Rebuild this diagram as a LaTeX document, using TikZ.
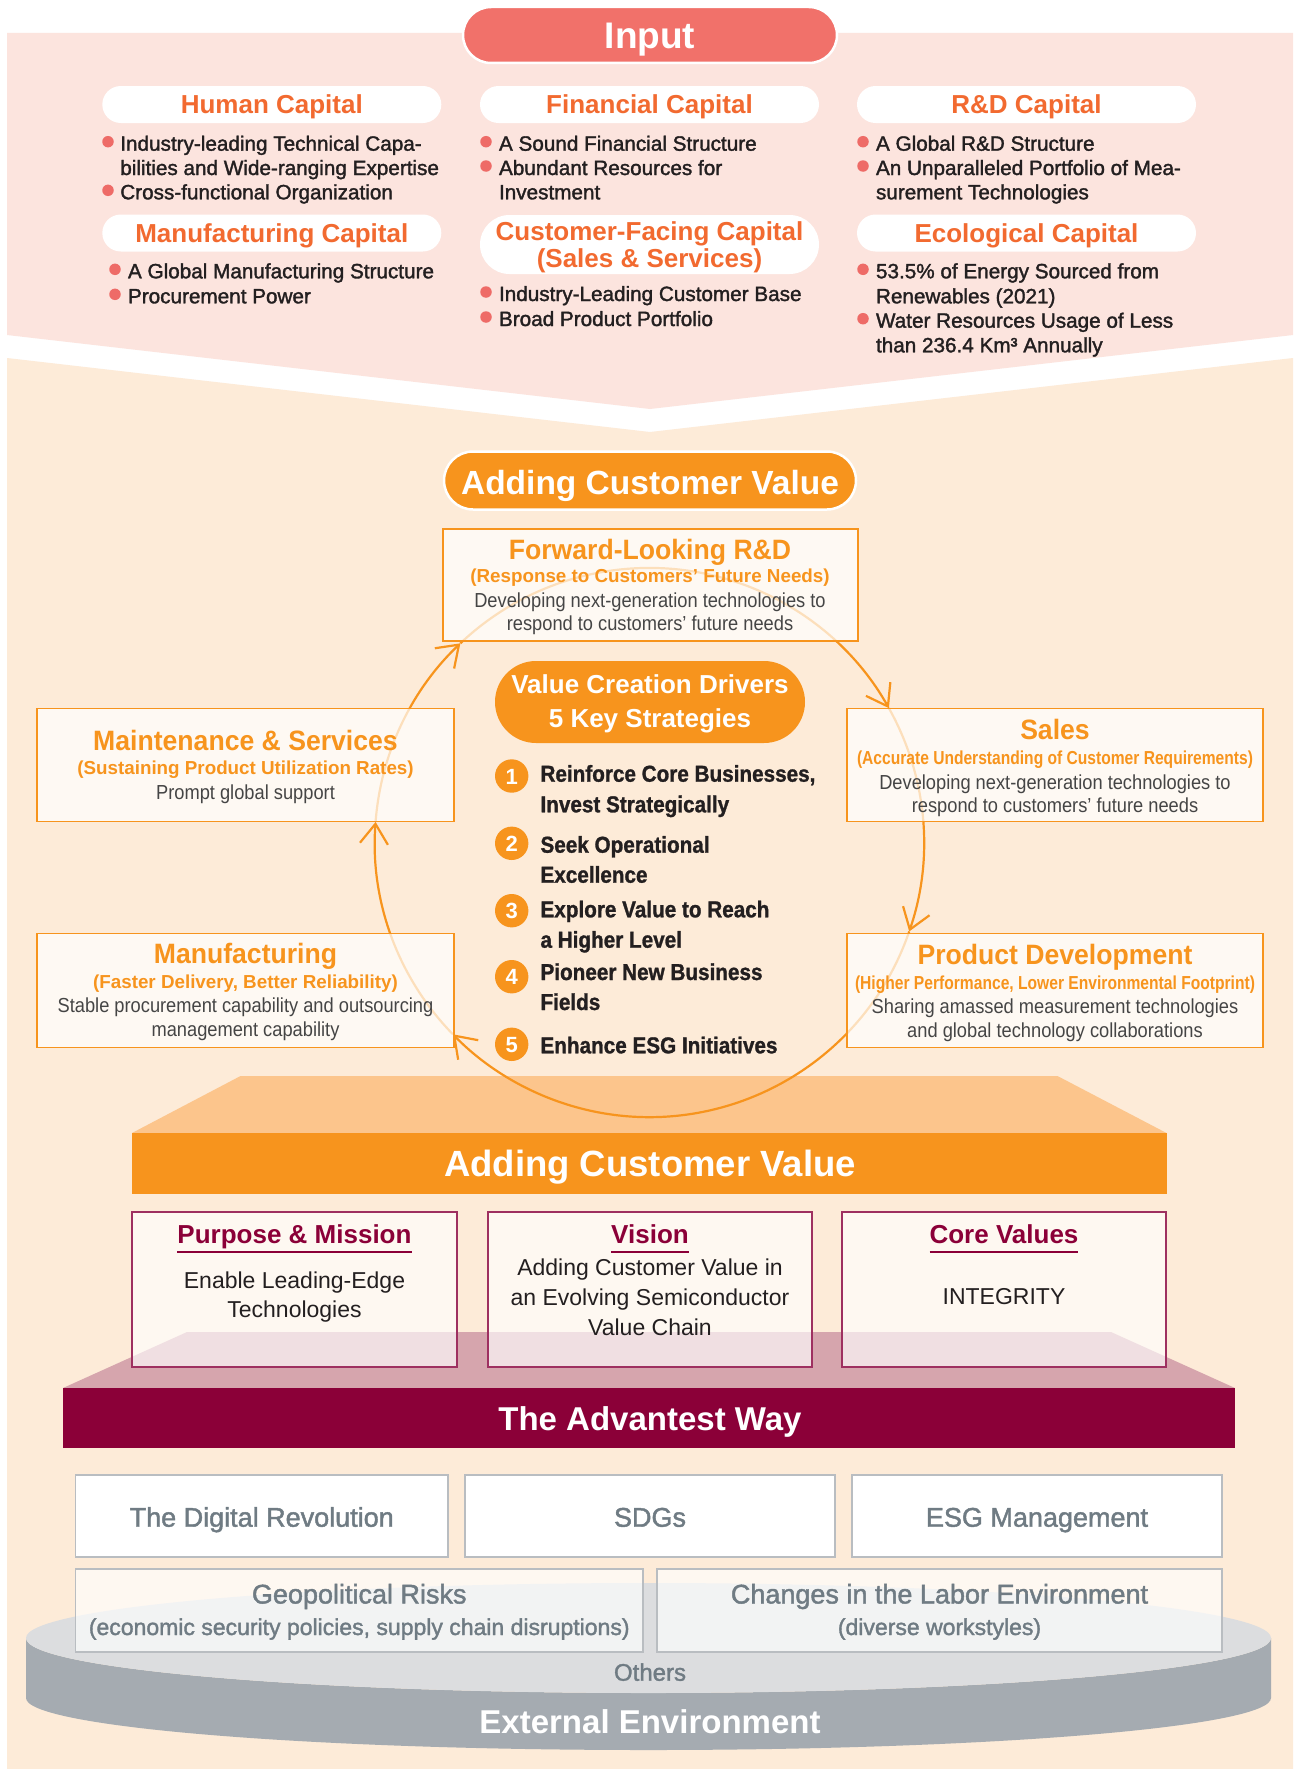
\documentclass[tikz,border=0pt]{standalone}
\usepackage{fontspec}
\setmainfont{Liberation Sans}
\newfontfamily\medf{Liberation Sans}[FakeBold=1.6]
\newfontfamily\fA{Liberation Sans}[FakeStretch=0.95]
\newfontfamily\fB{Liberation Sans}[FakeStretch=0.9]
\newfontfamily\fC{Liberation Sans Bold}[FakeStretch=0.9, FakeBold=1.2]
\usepackage{graphicx}
\usetikzlibrary{arrows.meta,calc}
\definecolor{pinkbg}{HTML}{FCE4DE}
\definecolor{peachbg}{HTML}{FDEBD8}
\definecolor{inputred}{HTML}{F1716A}
\definecolor{capred}{HTML}{F26A30}
\definecolor{dotred}{HTML}{EE6B67}
\definecolor{ink}{HTML}{231F20}
\definecolor{orng}{HTML}{F7941D}
\definecolor{lorng}{HTML}{FCC58C}
\definecolor{maroon}{HTML}{8B0038}
\definecolor{maroonb}{HTML}{9E3060}
\definecolor{lmaroon}{HTML}{D6A5AD}
\definecolor{gtext}{HTML}{6F7B83}
\definecolor{gborder}{HTML}{B9BDC1}
\definecolor{disktop}{HTML}{DCDDDF}
\definecolor{diskside}{HTML}{A5ABB1}
\definecolor{bodygray}{HTML}{454545}
\newcommand\cw[2]{\resizebox{#1}{\height}{#2}}
\begin{document}
\begin{tikzpicture}[x=1pt,y=-1pt,
  every node/.style={inner sep=0pt,outer sep=0pt},
  tb/.style={anchor=base},
  wpill/.style={fill=white, rounded corners=18.5pt, minimum width=339pt, minimum height=37pt},
  ctit/.style={anchor=base, text=capred, font=\bfseries\fontsize{26}{28}\selectfont},
  bul/.style={anchor=base west, text=ink, font=\medf\fontsize{20.7}{24}\selectfont},
  bdot/.style={circle, fill=dotred, minimum size=11.5pt},
  cbox/.style={draw=orng, line width=1.3pt, fill=white, fill opacity=0.7, minimum width=417pt, minimum height=113pt},
  ctitle/.style={anchor=base, text=orng, font=\fA\bfseries\fontsize{28}{30}\selectfont},
  csub/.style={anchor=base, text=orng, font=\bfseries\fontsize{18.8}{20}\selectfont},
  cbody/.style={anchor=base, text=bodygray, font=\fB\fontsize{20.3}{24}\selectfont},
  strat/.style={anchor=base west, text=ink, font=\fC\fontsize{23}{26}\selectfont},
  numc/.style={circle, fill=orng, minimum size=33.4pt},
  numt/.style={anchor=base, text=white, font=\bfseries\fontsize{22}{24}\selectfont},
  cyc/.style={draw=orng, line width=2.2pt, -{Straight Barb[length=20pt,width=28pt]}},
  mbox/.style={draw=maroonb, line width=1.3pt, fill=white, fill opacity=0.65, minimum width=324.5pt, minimum height=155pt},
  mtitle/.style={anchor=base, text=maroon, font=\bfseries\fontsize{26}{28}\selectfont},
  uline/.style={draw=maroon, line width=2.2pt},
  mbody/.style={anchor=base, text=ink, font=\fontsize{23}{26}\selectfont},
  ebox/.style={draw=gborder, line width=1.4pt, fill=white, minimum height=82pt},
  etext/.style={anchor=base, text=gtext, font=\medf\fontsize{27}{30}\selectfont},
  esmall/.style={anchor=base, text=gtext, font=\medf\fontsize{23}{26}\selectfont}]
\useasboundingbox (0,0) rectangle (1293,1769);
% backgrounds
\fill[white] (0,0) rectangle (1293,1769);
\fill[pinkbg] (7,33) -- (1293,33) -- (1293,335) -- (650,409) -- (7,335) -- cycle;
\fill[peachbg] (7,358) -- (650,432) -- (1293,358) -- (1293,1769) -- (7,1769) -- cycle;

% ---------- Input ----------
\node[draw=white, line width=2.5pt, fill=inputred, rounded corners=28pt, minimum width=374pt, minimum height=56pt] (inputpill) at (650,35) {};
\node[tb, text=white, font=\bfseries\fontsize{37}{40}\selectfont] (inputtxt) at (650,48.3) {Input};

\node[wpill] (hcp) at (271.8,104.5) {};
\node[wpill] (fcp) at (649.5,104.5) {};
\node[wpill] (rcp) at (1026.5,104.5) {};
\node[wpill] (mcp) at (271.8,233) {};
\node[wpill, minimum height=59pt, rounded corners=29.5pt] (ccp) at (649.5,244.5) {};
\node[wpill] (ecp) at (1026.5,233) {};

\node[ctit] (hct) at (271.8,113.3) {Human Capital};
\node[ctit] (fct) at (649.5,113.3) {Financial Capital};
\node[ctit] (rct) at (1026.5,113.3) {R\&D Capital};
\node[ctit] (mct) at (271.8,242.7) {Manufacturing Capital};
\node[ctit] (cct1) at (649.5,240) {Customer-Facing Capital};
\node[ctit] (cct2) at (649.5,267.7) {(Sales \& Services)};
\node[ctit] (ect) at (1026.5,242.7) {Ecological Capital};

% bullets
\node[bdot] (hd1) at (108,141.7) {};
\node[bdot] (hd2) at (108,190.3) {};
\node[bul] (hb1) at (120.3,150.7) {Industry-leading Technical Capa-};
\node[bul] (hb2) at (120.3,175) {bilities and Wide-ranging Expertise};
\node[bul] (hb3) at (120.3,199.3) {Cross-functional Organization};

\node[bdot] (fd1) at (486,141.7) {};
\node[bdot] (fd2) at (486,166) {};
\node[bul] (fb1) at (499,150.7) {A Sound Financial Structure};
\node[bul] (fb2) at (499,175) {Abundant Resources for};
\node[bul] (fb3) at (499,199.3) {Investment};

\node[bdot] (rd1) at (863,141.7) {};
\node[bdot] (rd2) at (863,166) {};
\node[bul] (rb1) at (876,150.7) {A Global R\&D Structure};
\node[bul] (rb2) at (876,175) {An Unparalleled Portfolio of Mea-};
\node[bul] (rb3) at (876,199.3) {surement Technologies};

\node[bdot] (md1) at (115,269.3) {};
\node[bdot] (md2) at (115,294.3) {};
\node[bul] (mb1) at (128,278.3) {A Global Manufacturing Structure};
\node[bul] (mb2) at (128,303.3) {Procurement Power};

\node[bdot] (cd1) at (486,292) {};
\node[bdot] (cd2) at (486,317) {};
\node[bul] (cb1) at (499,301) {Industry-Leading Customer Base};
\node[bul] (cb2) at (499,326) {Broad Product Portfolio};

\node[bdot] (ed1) at (863,269.3) {};
\node[bdot] (ed2) at (863,318.7) {};
\node[bul] (eb1) at (876,278.3) {53.5\% of Energy Sourced from};
\node[bul] (eb2) at (876,303.3) {Renewables (2021)};
\node[bul] (eb3) at (876,327.7) {Water Resources Usage of Less};
\node[bul] (eb4) at (876,352.3) {than 236.4 Km³ Annually};

% ---------- Adding Customer Value pill ----------
\node[draw=white, line width=2.5pt, fill=orng, rounded corners=29pt, minimum width=412pt, minimum height=58pt] (acvpill) at (650,480.5) {};
\node[tb, text=white, font=\bfseries\fontsize{33.5}{36}\selectfont] (acvtxt) at (650,494.3) {Adding Customer Value};

% ---------- lower orange platform ----------
\fill[lorng] (240.5,1076) -- (1057.5,1076) -- (1166.5,1133) -- (132,1133) -- cycle;
\node[fill=orng, minimum width=1034.5pt, minimum height=61pt] (acvbar) at (649.25,1163.5) {};
\node[tb, text=white, font=\bfseries\fontsize{36.5}{40}\selectfont] (acvbartxt) at (650,1176.7) {Adding Customer Value};

% ---------- cycle ----------
\coordinate (cc) at (649.4,842.5);
\coordinate (tFwd) at ([shift={(226.5:274.6)}]cc);
\coordinate (tSales) at ([shift={(330.7:274.6)}]cc);
\coordinate (tProd) at ([shift={(18.9:274.6)}]cc);
\coordinate (tMan) at ([shift={(135.7:274.6)}]cc);
\coordinate (tMaint) at ([shift={(184.3:274.6)}]cc);
\draw[cyc] (tFwd) arc[start angle=226.5, end angle=330.7, radius=274.6];
\draw[cyc] (tSales) arc[start angle=330.7, end angle=378.9, radius=274.6];
\draw[cyc] (tProd) arc[start angle=18.9, end angle=135.7, radius=274.6];
\draw[cyc] (tMan) arc[start angle=135.7, end angle=184.3, radius=274.6];
\draw[cyc] (tMaint) arc[start angle=184.3, end angle=226.5, radius=274.6];

\node[cbox, minimum width=415pt, minimum height=112pt] (fwd) at (650.5,585) {};
\node[cbox] (maint) at (245.5,765) {};
\node[cbox, minimum width=416pt] (sales) at (1055,765) {};
\node[cbox, minimum height=114pt] (manu) at (245.5,990.5) {};
\node[cbox, minimum width=416pt, minimum height=114pt] (prod) at (1055,990.5) {};

\node[ctitle] (fwdt) at (650,559.5) {Forward-Looking R\&D};
\node[csub] (fwds) at (650,582.7) {(Response to Customers’ Future Needs)};
\node[cbody] (fwdb1) at (650,607.6) {Developing next-generation technologies to};
\node[cbody] (fwdb2) at (650,630.6) {respond to customers’ future needs};

\node[ctitle] (maintt) at (245.5,750.3) {Maintenance \& Services};
\node[csub] (maints) at (245.5,774.4) {(Sustaining Product Utilization Rates)};
\node[cbody] (maintb) at (245.5,799.3) {Prompt global support};

\node[ctitle] (salest) at (1055,739.2) {Sales};
\node[csub] (sairs) at (1055,764.6) {\cw{396pt}{(Accurate Understanding of Customer Requirements)}};
\node[cbody] (salesb1) at (1055,789.2) {Developing next-generation technologies to};
\node[cbody] (salesb2) at (1055,812) {respond to customers’ future needs};

\node[ctitle] (manut) at (245.5,963.5) {Manufacturing};
\node[csub] (manus) at (245.5,988.5) {(Faster Delivery, Better Reliability)};
\node[cbody] (manub1) at (245.5,1012.5) {Stable procurement capability and outsourcing};
\node[cbody] (manub2) at (245.5,1036.5) {management capability};

\node[ctitle] (prodt) at (1055,964.5) {Product Development};
\node[csub] (prods) at (1055,989.5) {\cw{400pt}{(Higher Performance, Lower Environmental Footprint)}};
\node[cbody] (prodb1) at (1055,1013.5) {Sharing amassed measurement technologies};
\node[cbody] (prodb2) at (1055,1037.5) {and global technology collaborations};

% value creation drivers
\node[fill=orng, rounded corners=41pt, minimum width=310pt, minimum height=82pt] (vcd) at (650,702) {};
\node[tb, text=white, font=\bfseries\fontsize{26}{28}\selectfont] (vcd1) at (650,693.3) {Value Creation Drivers};
\node[tb, text=white, font=\bfseries\fontsize{26}{28}\selectfont] (vcd2) at (650,727.3) {5 Key Strategies};

\node[numc] (n1) at (511.7,776) {};
\node[numc] (n2) at (511.7,843.3) {};
\node[numc] (n3) at (511.7,910.7) {};
\node[numc] (n4) at (511.7,976.7) {};
\node[numc] (n5) at (511.7,1044.3) {};
\node[numt] (n1t) at (511.7,784) {1};
\node[numt] (n2t) at (511.7,851.3) {2};
\node[numt] (n3t) at (511.7,918.7) {3};
\node[numt] (n4t) at (511.7,984.7) {4};
\node[numt] (n5t) at (511.7,1052.3) {5};

\node[strat] (s1a) at (540.5,781.7) {Reinforce Core Businesses,};
\node[strat] (s1b) at (540.5,812.3) {Invest Strategically};
\node[strat] (s2a) at (540.5,852.7) {Seek Operational};
\node[strat] (s2b) at (540.5,882.7) {Excellence};
\node[strat] (s3a) at (540.5,917.3) {Explore Value to Reach};
\node[strat] (s3b) at (540.5,947.7) {a Higher Level};
\node[strat] (s4a) at (540.5,980) {Pioneer New Business};
\node[strat] (s4b) at (540.5,1010) {Fields};
\node[strat] (s5a) at (540.5,1053.3) {Enhance ESG Initiatives};

% ---------- Advantest Way platform ----------
\fill[lmaroon] (187,1332) -- (1111,1332) -- (1235,1388) -- (63,1388) -- cycle;
\node[fill=maroon, minimum width=1172pt, minimum height=60pt] (waybar) at (649,1418) {};
\node[tb, text=white, font=\bfseries\fontsize{33}{36}\selectfont] (waytxt) at (650,1430) {The Advantest Way};

\node[mbox, minimum width=325pt] (purp) at (294.5,1289.5) {};
\node[mbox, minimum width=324pt] (vis) at (650,1289.5) {};
\node[mbox, minimum width=324pt] (core) at (1004,1289.5) {};

\node[mtitle] (purpt) at (294.5,1243.3) {Purpose \& Mission};
\node[mtitle] (vist) at (650,1243.3) {Vision};
\node[mtitle] (coret) at (1004,1243.3) {Core Values};
\draw[uline] ($(purpt.base west)+(0,8.7)$) -- ($(purpt.base east)+(0,8.7)$);
\draw[uline] ($(vist.base west)+(0,8.7)$) -- ($(vist.base east)+(0,8.7)$);
\draw[uline] ($(coret.base west)+(0,8.7)$) -- ($(coret.base east)+(0,8.7)$);

\node[mbody] (purpb1) at (294.5,1288.3) {Enable Leading-Edge};
\node[mbody] (purpb2) at (294.5,1317.3) {Technologies};
\node[mbody] (visb1) at (650,1275) {Adding Customer Value in};
\node[mbody] (visb2) at (650,1305) {an Evolving Semiconductor};
\node[mbody] (visb3) at (650,1335) {Value Chain};
\node[mbody] (coreb) at (1004,1304.3) {INTEGRITY};

% ---------- External environment ----------
\fill[diskside] (26,1638) -- (26,1698) arc[start angle=180, end angle=0, x radius=622.5, y radius=52] -- (1271,1638) arc[start angle=0, end angle=180, x radius=622.5, y radius=55] -- cycle;
\fill[disktop] (648.5,1638) ellipse [x radius=622.5, y radius=55];

\node[ebox, minimum width=372.5pt] (digi) at (261.75,1516) {};
\node[ebox, minimum width=370pt] (sdg) at (650,1516) {};
\node[ebox, minimum width=370pt] (esg) at (1037,1516) {};
\node[ebox, fill opacity=0.65, minimum width=567.5pt, minimum height=83pt] (geo) at (359.25,1610.5) {};
\node[ebox, fill opacity=0.65, minimum width=565pt, minimum height=83pt] (labor) at (939.5,1610.5) {};

\node[etext] (digit) at (261.75,1526.7) {The Digital Revolution};
\node[etext] (sdgt) at (650,1526.7) {SDGs};
\node[etext] (esgt) at (1037,1526.7) {ESG Management};
\node[etext] (geot1) at (359.25,1603.5) {Geopolitical Risks};
\node[esmall] (geot2) at (359.25,1635) {(economic security policies, supply chain disruptions)};
\node[etext] (labt1) at (939.5,1603.5) {Changes in the Labor Environment};
\node[esmall] (labt2) at (939.5,1635) {(diverse workstyles)};
\node[tb, text=gtext, font=\medf\fontsize{24}{26}\selectfont] (others) at (650,1680.7) {Others};
\node[tb, text=white, font=\bfseries\fontsize{33}{36}\selectfont] (extenv) at (650,1733.3) {External Environment};
\end{tikzpicture}
\end{document}
